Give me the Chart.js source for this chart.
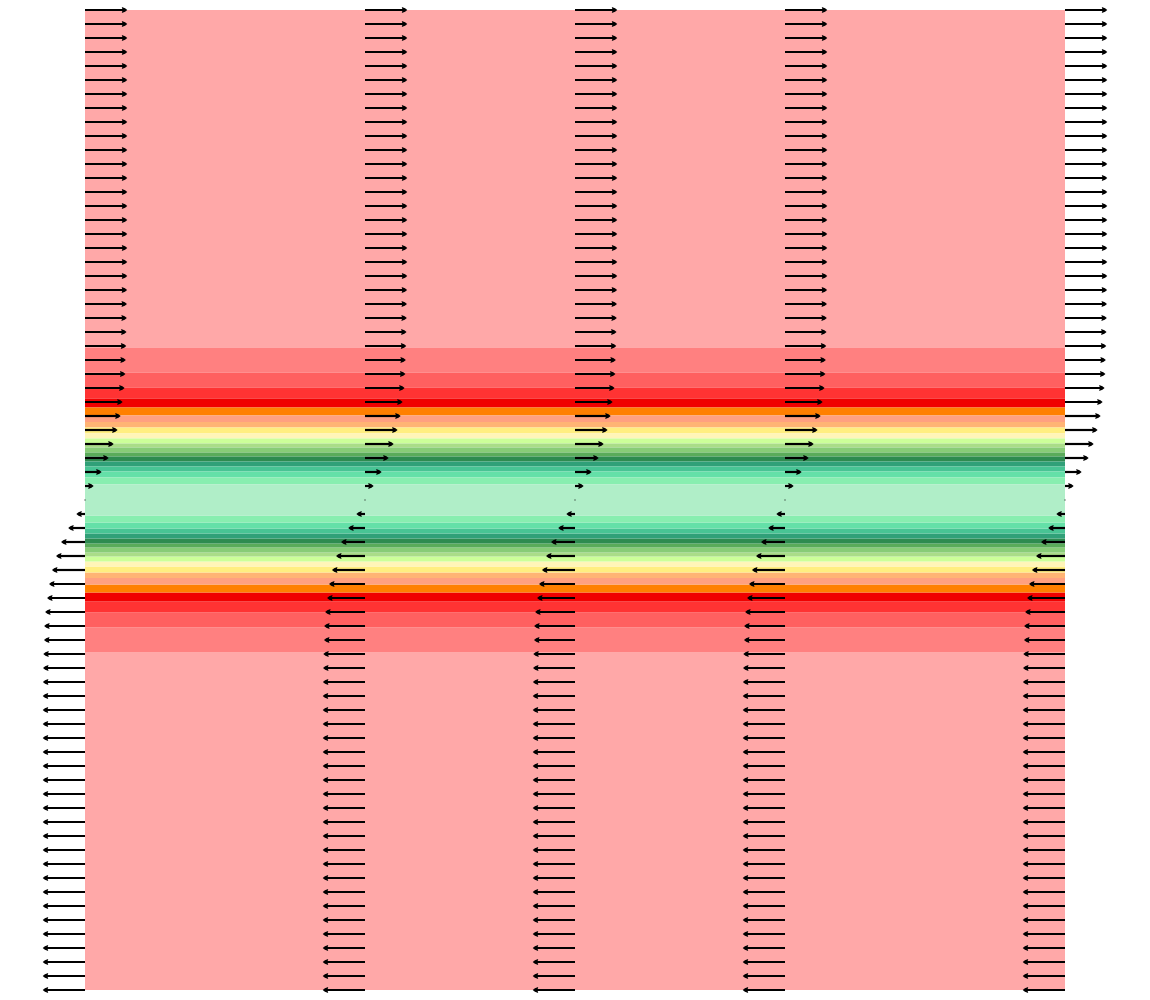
<!DOCTYPE html>
<html>
<head>
<meta charset="utf-8">
<script src="https://cdn.jsdelivr.net/npm/chart.js@4.4.1/dist/chart.umd.min.js"></script>
<style>
  html, body { margin: 0; padding: 0; background: #fff; }
  #wrap { width: 1150px; height: 1000px; }
</style>
</head>
<body>
<div id="wrap"><canvas id="myChart" width="1150" height="1000"></canvas></div>
<script>
// arrow columns (x positions) and rows (y positions)
var columns = [0, 2, 3.5, 5, 7];
var rowsY = [3.5, 3.4, 3.3, 3.2, 3.1, 3.0, 2.9, 2.8, 2.7, 2.6, 2.5, 2.4, 2.3, 2.2, 2.1, 2.0, 1.9, 1.8, 1.7, 1.6,
             1.5, 1.4, 1.3, 1.2, 1.1, 1.0, 0.9, 0.8, 0.7, 0.6, 0.5, 0.4, 0.3, 0.2, 0.1, 0.0,
             -0.1, -0.2, -0.3, -0.4, -0.5, -0.6, -0.7, -0.8, -0.9, -1.0, -1.1, -1.2, -1.3, -1.4, -1.5,
             -1.6, -1.7, -1.8, -1.9, -2.0, -2.1, -2.2, -2.3, -2.4, -2.5, -2.6, -2.7, -2.8, -2.9, -3.0,
             -3.1, -3.2, -3.3, -3.4, -3.5];
// horizontal velocity (same for every column)
var speed = [0.302, 0.302, 0.302, 0.302, 0.302, 0.302, 0.302, 0.302, 0.302, 0.302, 0.302, 0.302, 0.302, 0.302, 0.302, 0.302, 0.302, 0.302, 0.302, 0.302,
             0.301, 0.300, 0.299, 0.297, 0.295, 0.292, 0.289, 0.283, 0.269, 0.255, 0.233, 0.205, 0.169, 0.119, 0.062, 0,
             -0.062, -0.120, -0.171, -0.207, -0.236, -0.257, -0.271, -0.285, -0.292, -0.293, -0.298, -0.300, -0.301, -0.302, -0.302,
             -0.302, -0.302, -0.302, -0.302, -0.302, -0.302, -0.302, -0.302, -0.302, -0.302, -0.302, -0.302, -0.302, -0.302, -0.302,
             -0.302, -0.302, -0.302, -0.302, -0.302];

// contour band edges (distance from centre line) and their colours, centre outward
var levels = [0.111, 0.161, 0.204, 0.239, 0.275, 0.311, 0.339, 0.375, 0.404, 0.439,
              0.475, 0.518, 0.557, 0.604, 0.661, 0.725, 0.804, 0.911, 1.089, 3.5];
var bandColors = ['#b0eec8', '#88eeb0', '#64e0a8', '#48c494', '#30a078', '#2e8b50', '#5aab5a', '#88cc77', '#aadd88', '#ccff99',
                  '#fff5b8', '#ffee80', '#ffb474', '#ffa080', '#ff8000', '#f00000', '#ff3333', '#ff6060', '#ff8080', '#ffa8a8'];

var xMin = 0, xMax = 7;

function band(lo, hi, color){
    return {
        type: 'line',
        data: [{x: xMin, y: hi}, {x: xMax, y: hi}],
        fill: {value: lo},
        backgroundColor: color,
        borderWidth: 0,
        pointRadius: 0
    };
}

var datasets = [];
datasets.push(band(-levels[0], levels[0], bandColors[0]));
for (var i = 1; i < levels.length; i++) {
    datasets.push(band(levels[i-1], levels[i], bandColors[i]));
    datasets.push(band(-levels[i], -levels[i-1], bandColors[i]));
}

var arrowPlugin = {
    id: 'arrows',
    afterDatasetsDraw: function(chart){
        var ctx = chart.ctx, xs = chart.scales.x, ys = chart.scales.y;
        ctx.save();
        ctx.fillStyle = '#000';
        ctx.strokeStyle = '#000';
        columns.forEach(function(cx){
            rowsY.forEach(function(ry, k){
                var u = speed[k];
                var x0 = xs.getPixelForValue(cx);
                var x1 = xs.getPixelForValue(cx + u);
                var py = ys.getPixelForValue(ry);
                var len = Math.abs(x1 - x0);
                if (len < 1) {
                    ctx.fillRect(x0 - 0.5, py - 0.5, 1, 1);
                    return;
                }
                var dir = x1 > x0 ? 1 : -1;
                var head = Math.min(5.5, len * 0.65);
                ctx.lineWidth = 2.2;
                ctx.beginPath();
                ctx.moveTo(x0, py);
                ctx.lineTo(x1 - dir * head * 0.7, py);
                ctx.stroke();
                ctx.beginPath();
                ctx.moveTo(x1, py);
                ctx.lineTo(x1 - dir * head * 0.4, py - 1.8);
                ctx.lineTo(x1 - dir * head, py - 3);
                ctx.lineTo(x1 - dir * head * 0.85, py);
                ctx.lineTo(x1 - dir * head, py + 3);
                ctx.lineTo(x1 - dir * head * 0.4, py + 1.8);
                ctx.closePath();
                ctx.fill();
            });
        });
        ctx.restore();
    }
};

var chartCtx = document.getElementById('myChart').getContext('2d');
var myChart = new Chart(chartCtx, {
    type: 'line',
    data: { datasets: datasets },
    options: {
        responsive: false,
        animation: false,
        layout: { padding: { left: 85, right: 85, top: 10, bottom: 10 } },
        scales: {
            x: { type: 'linear', min: xMin, max: xMax, display: false },
            y: { type: 'linear', min: -3.5, max: 3.5, display: false }
        },
        plugins: {
            legend: { display: false },
            tooltip: { enabled: false }
        }
    },
    plugins: [arrowPlugin]
});
</script>
</body>
</html>
